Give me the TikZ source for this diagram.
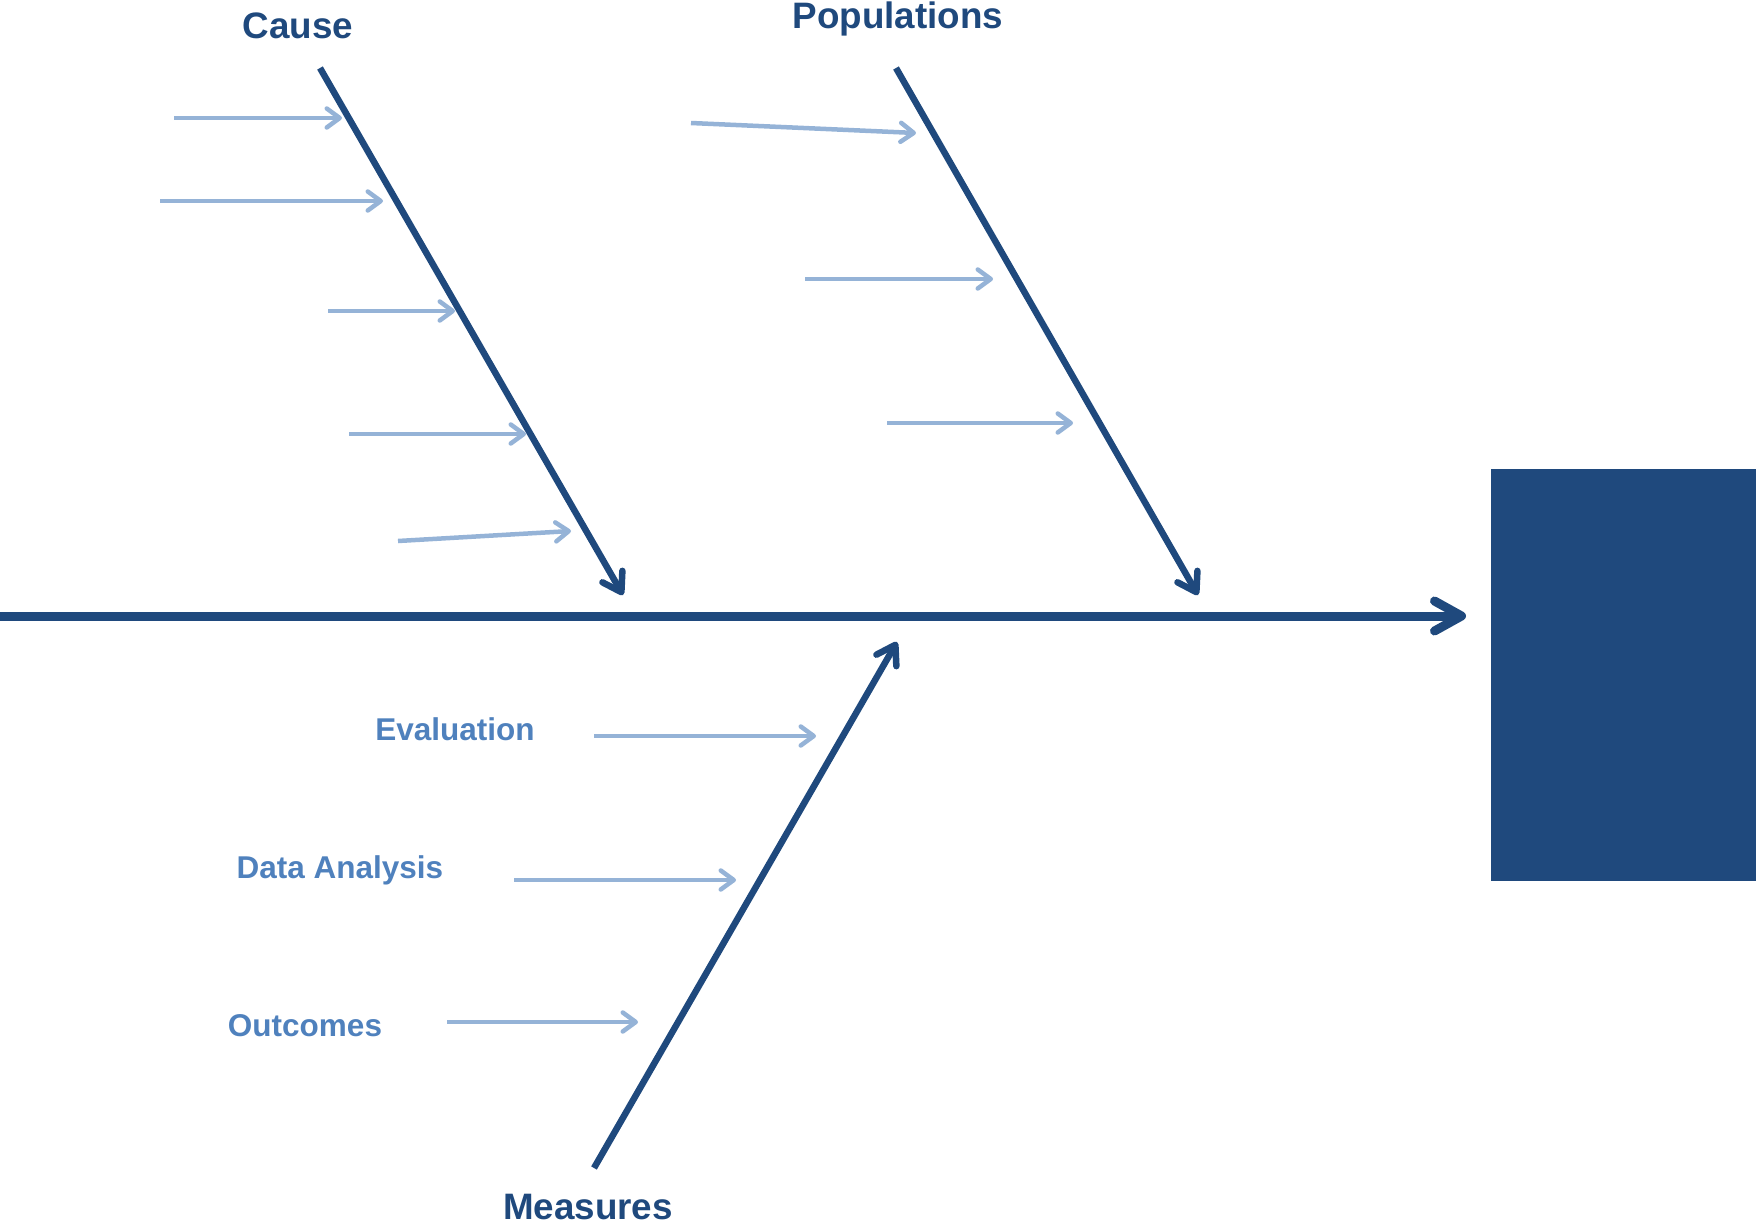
\documentclass[tikz,border=0pt]{standalone}
\usepackage{fontspec}
\setmainfont{Liberation Sans}
\usetikzlibrary{arrows.meta}

\definecolor{darkblue}{HTML}{1F497D}
\definecolor{ribblue}{HTML}{95B3D7}
\definecolor{labelblue}{HTML}{4F81BD}

\tikzset{
	spine/.style={line width=9pt, draw=darkblue, -{Straight Barb[length=27pt,width=30pt,round]}},
	bone/.style={line width=6.5pt, draw=darkblue, -{Straight Barb[length=18pt,width=23pt,round]}},
	rib/.style={line width=4.5pt, draw=ribblue, -{Straight Barb[length=13pt,width=19pt,round]}},
	title/.style={anchor=base, inner sep=0pt, text=darkblue, font=\fontsize{36.8}{40}\selectfont\bfseries},
	item/.style={anchor=base, inner sep=0pt, text=labelblue, font=\fontsize{31.5}{36}\selectfont\bfseries},
}

\begin{document}
\begin{tikzpicture}[x=1pt,y=-1pt]
		\useasboundingbox (0,0) rectangle (1756,1225);
		% effect box and spine
		\fill[darkblue] (1491,469) rectangle (1756,881);
		\coordinate (tail) at (0,616);
		\coordinate (tip) at (1466,616);
		\draw[spine] (tail) -- (tip);
		% category titles
		\node[title] (cause) at (298,39) {Cause};
		\node[title] (populations) at (898,29) {Populations};
		\node[title] (measures) at (588,1219) {Measures};
		% bones
		\coordinate (c0) at (320,68);
		\coordinate (c1) at (623,595);
		\coordinate (p0) at (896,68);
		\coordinate (p1) at (1198,595);
		\coordinate (m0) at (594,1168);
		\coordinate (m1) at (897,642);
		\draw[bone] (c0) -- (c1);
		\draw[bone] (p0) -- (p1);
		\draw[bone] (m0) -- (m1);
		% ribs on Cause
		\foreach \xa/\ya/\xb/\yb [count=\i] in {174/118/342/118, 160/201/383/201, 328/311/455/311, 349/434/526/434, 398/541/571/531}{
			\coordinate (ca\i) at (\xa,\ya);
			\coordinate (cb\i) at (\xb,\yb);
			\draw[rib] (ca\i) -- (cb\i);
		}
		% ribs on Populations
		\foreach \xa/\ya/\xb/\yb [count=\i] in {691/123/916/133, 805/279/993/279, 887/423/1073/423}{
			\coordinate (pa\i) at (\xa,\ya);
			\coordinate (pb\i) at (\xb,\yb);
			\draw[rib] (pa\i) -- (pb\i);
		}
		% ribs on Measures
		\node[item] (evaluation) at (455,740) {Evaluation};
		\node[item] (analysis) at (340,878) {Data Analysis};
		\node[item] (outcomes) at (305,1036) {Outcomes};
		\coordinate (ma1) at (594,736);
		\coordinate (mb1) at (816,736);
		\coordinate (ma2) at (514,880);
		\coordinate (mb2) at (736,880);
		\coordinate (ma3) at (447,1022);
		\coordinate (mb3) at (638,1022);
		\draw[rib] (ma1) -- (mb1);
		\draw[rib] (ma2) -- (mb2);
		\draw[rib] (ma3) -- (mb3);
	\end{tikzpicture}
\end{document}
